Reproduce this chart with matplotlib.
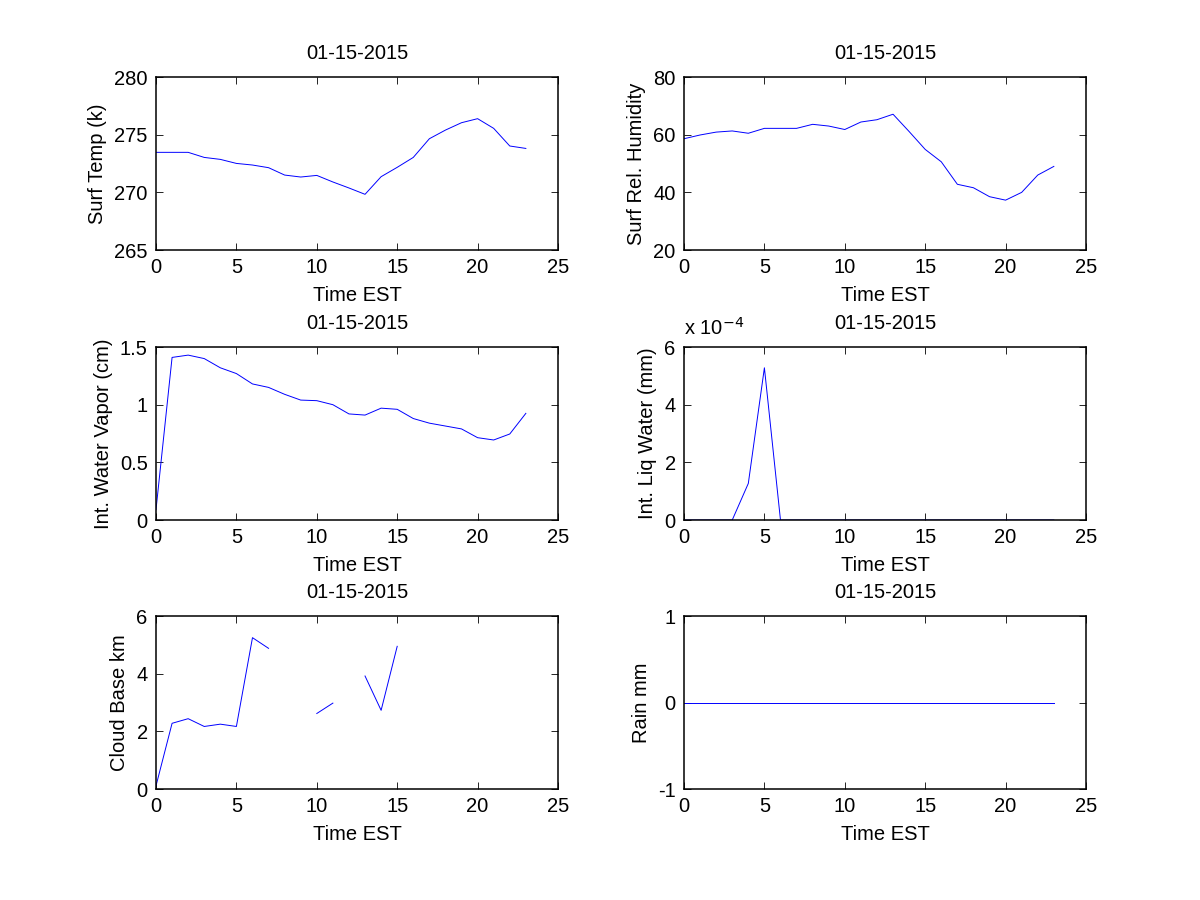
import numpy as np
import matplotlib
matplotlib.use("Agg")
import matplotlib.pyplot as plt
from matplotlib.ticker import FuncFormatter

plt.rcParams["font.family"] = ["Liberation Sans", "DejaVu Sans"]
plt.rcParams["font.size"] = 14.5

hours = np.arange(24)
date_str = "01-15-2015"

surf_temp = [273.47, 273.47, 273.47, 273.03, 272.86, 272.51, 272.37, 272.14,
             271.5, 271.33, 271.47, 270.9, 270.38, 269.83, 271.36, 272.17,
             273.03, 274.65, 275.4, 276.04, 276.39, 275.55, 274.02, 273.81]

surf_rh = [58.6, 59.9, 60.9, 61.3, 60.5, 62.2, 62.2, 62.2, 63.6, 63.0, 61.8, 64.4,
           65.2, 67.1, 61.1, 54.9, 50.6, 42.8, 41.6, 38.5, 37.3, 40.0, 46.0, 49.0]

water_vapor = [0.09, 1.41, 1.43, 1.40, 1.32, 1.27, 1.18, 1.15, 1.09, 1.04, 1.035, 1.0,
               0.92, 0.91, 0.97, 0.96, 0.88, 0.84, 0.815, 0.79, 0.714, 0.694, 0.746, 0.925]

liq_water = [0, 0, 0, 0, 1.27e-4, 5.28e-4, 0, 0, 0, 0, 0, 0,
             0, 0, 0, 0, 0, 0, 0, 0, 0, 0, 0, 0]

nan = np.nan
cloud_base = [0.11, 2.28, 2.44, 2.17, 2.25, 2.17, 5.25, 4.88, nan, nan, 2.62, 2.98,
              nan, 3.92, 2.73, 4.95, nan, nan, nan, nan, nan, nan, nan, nan]

rain = [0] * 24

panels = [
    (surf_temp, "Surf Temp (k)", (265, 280), [265, 270, 275, 280]),
    (surf_rh, "Surf Rel. Humidity", (20, 80), [20, 40, 60, 80]),
    (water_vapor, "Int. Water Vapor (cm)", (0, 1.5), [0, 0.5, 1, 1.5]),
    (liq_water, "Int. Liq Water (mm)", (0, 6e-4), [0, 2e-4, 4e-4, 6e-4]),
    (cloud_base, "Cloud Base km", (0, 6), [0, 2, 4, 6]),
    (rain, "Rain mm", (-1, 1), [-1, 0, 1]),
]

fig = plt.figure(figsize=(12, 9), dpi=100)
lefts = [0.13, 0.57]
bottoms = [0.7222, 0.4222, 0.1233]
w, h = 0.335, 0.1922

for i, (vals, ylab, ylim, yticks) in enumerate(panels):
    ax = fig.add_axes([lefts[i % 2], bottoms[i // 2], w, h])
    ax.plot(hours, vals, color=(0, 0, 1), lw=0.7)
    ax.set_xlim(0, 25)
    ax.set_ylim(*ylim)
    ax.set_xticks([0, 5, 10, 15, 20, 25])
    ax.set_yticks(yticks)
    ax.tick_params(direction="in", top=True, right=True, length=5, width=0.6, pad=6)
    for s in ax.spines.values():
        s.set_linewidth(1.1)
        s.set_zorder(3)
    ax.set_title(date_str, fontsize=14.5, pad=13)
    ax.set_xlabel("Time EST", labelpad=6)
    ax.set_ylabel(ylab, labelpad=5)
    if i == 3:
        ax.yaxis.set_major_formatter(FuncFormatter(lambda v, p: "%g" % round(v / 1e-4, 6)))
        ax.text(0.0, 1.05, "x 10$^{-4}$", transform=ax.transAxes, fontsize=14.5,
                ha="left", va="bottom")
    else:
        ax.yaxis.set_major_formatter(FuncFormatter(lambda v, p: "%g" % v))

fig.savefig("out.png", dpi=100)
